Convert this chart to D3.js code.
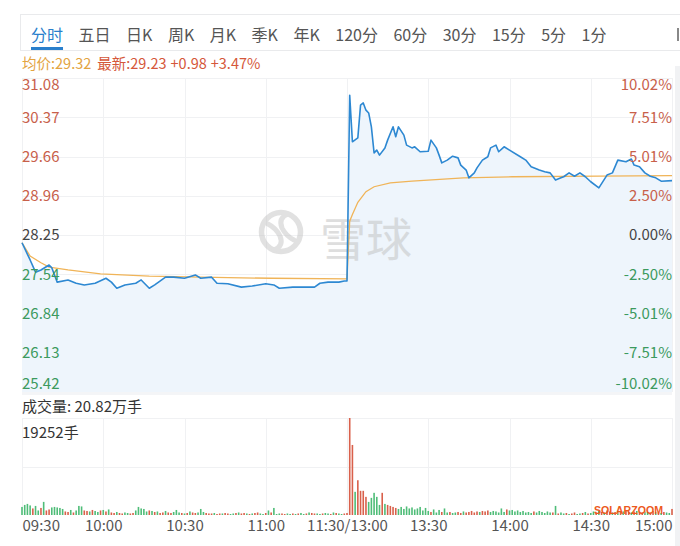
<!DOCTYPE html>
<html><head><meta charset="utf-8">
<script src="https://cdn.jsdelivr.net/npm/d3@7/dist/d3.min.js"></script>
<style>
html,body{margin:0;padding:0;background:#fff;}
svg{display:block;font-family:"Noto Sans CJK SC","Noto Sans",sans-serif;}
</style></head><body>
<svg id="c" width="680" height="546"></svg>
<script>
// ---------- data ----------
const tabs = ["分时","五日","日K","周K","月K","季K","年K","120分","60分","30分","15分","5分","1分"];
const avgPriceText = "均价:29.32";
const lastText = ["最新:29.23", "+0.98", "+3.47%"];
const volTitle = "成交量: 20.82万手";
const volMaxLabel = "19252手";

const prevClose = 28.25;
const priceTicks = [31.08, 30.37, 29.66, 28.96, 28.25, 27.54, 26.84, 26.13, 25.42];
const priceTickLabels = ["31.08","30.37","29.66","28.96","28.25","27.54","26.84","26.13","25.42"];
const pctTickLabels = ["10.02%","7.51%","5.01%","2.50%","0.00%","-2.50%","-5.01%","-7.51%","-10.02%"];

const timeTicks = [0, 30, 60, 90, 120, 150, 180, 210, 240]; // trading minutes
const timeTickLabels = ["09:30","10:00","10:30","11:00","11:30/13:00","13:30","14:00","14:30","15:00"];

// price line: minute index and price
const priceMin = [0,3,5,7,10,11,13,17,20,23,27,31,33,35,38,42,44,47,49,53,56,60,64,66,70,72,76,81,85,90,93,95,100,104,108,110,113,117,119,120,
  121,122,124,125,126,127,128,129,130,131,132,134,135,137,138,139,141,142,144,145,147,150,151,153,154,155,157,159,161,162,164,165,167,168,170,172,173,175,176,178,180,
  184,186,188,191,193,195,197,199,200,202,204,206,208,210,213,216,218,220,223,225,226,228,230,232,234,236,240];
const priceVal = [28.11,27.80,27.58,27.62,27.71,27.66,27.40,27.44,27.38,27.35,27.38,27.47,27.40,27.29,27.35,27.38,27.44,27.29,27.35,27.49,27.49,27.47,27.53,27.47,27.49,27.38,27.37,27.31,27.33,27.37,27.35,27.29,27.31,27.31,27.31,27.38,27.40,27.40,27.42,27.42,
  30.77,29.93,30.00,30.59,30.63,30.50,30.45,30.20,29.73,29.78,29.69,29.82,29.96,30.20,30.02,30.20,30.05,29.87,29.82,29.84,29.75,29.76,29.96,29.82,29.69,29.55,29.60,29.67,29.64,29.51,29.42,29.28,29.37,29.46,29.60,29.66,29.82,29.87,29.75,29.84,29.78,
  29.66,29.60,29.48,29.42,29.39,29.37,29.24,29.28,29.30,29.37,29.31,29.37,29.30,29.21,29.10,29.33,29.37,29.60,29.57,29.62,29.51,29.48,29.37,29.31,29.28,29.22,29.23];

// average price line
const avgMin = [0,3,7,10,17,29,47,66,92,120,121,122,124,127,130,136,144,163,181,213,240];
const avgVal = [28.11,27.87,27.75,27.67,27.62,27.55,27.51,27.49,27.47,27.46,28.50,28.62,28.84,29.03,29.12,29.19,29.22,29.28,29.30,29.31,29.32];

// volume per minute (手), morning m0..m120 and afternoon m121..m240
const volAM = [1600,2000,2200,1900,1300,1800,900,1400,2600,900,
  1100,1500,1600,1500,1400,1200,700,600,1000,500,
  900,1800,1700,900,800,700,1000,800,600,900,
  1000,700,1100,500,400,600,400,300,500,400,
  300,400,900,1600,1300,1200,700,900,800,600,
  700,400,500,800,500,400,600,1000,500,400,
  300,400,700,500,400,500,1200,600,400,300,
  300,400,200,300,300,400,300,200,300,400,
  500,300,400,300,200,300,400,500,300,200,
  400,900,500,1400,200,300,300,200,300,200,
  300,200,300,400,200,300,500,400,300,300,
  200,300,400,300,200,500,400,300,200,300,
  400];
const volPM = [19252,13900,4600,6900,4800,4800,3600,2600,3400,4400,
  3600,2000,4400,2200,2000,1800,1600,1400,1200,1600,
  1200,1700,1300,1500,1100,1300,1600,900,1400,800,
  600,1100,500,1000,600,1300,500,600,400,500,
  600,400,700,500,600,800,500,700,600,800,
  700,900,600,800,700,500,1300,600,1100,900,
  1000,700,900,600,800,500,600,400,700,500,
  800,600,400,700,500,500,1800,300,500,300,
  400,200,300,500,200,300,400,600,300,400,
  700,500,800,600,500,900,700,500,600,800,
  600,700,900,600,500,700,800,600,500,700,
  600,500,800,600,500,400,600,500,400,1200];
// r = up minute, g = down minute
const sideAM = "ggggrggrgr"+"rgggggrrgr"+"gggrrgrggr"+"grgrrgrrgg"+"rrgggggrgr"+"grrgrrgggr"+"grgrrgggrr"+"rgrrgrrggr"+"grrgrgrrgg"+"rgrgggrrgg"+"rgrggrgrrg"+"grggrgrggr"+"r";
const sidePM = "rrgrrrrggg"+"ggrgrrrrgg"+"gggggggggg"+"rgggrggrgg"+"rrgrrrrrgr"+"rrggggggrg"+"ggggggggrg"+"gggggrgrgg"+"rgrrggrgrg"+"grgrgrrgrg"+"rgrrgrgrrg"+"grrgrgrggr";

// ---------- layout ----------
const W = 680, H = 546;
const L = 22, R = 672;
const pTop = 78, pBot = 392;
const vTop = 418, vBot = 515;

const C = {
  red: "#c8604a", green: "#3c9a5e", gray: "#444",
  grid: "#f0f1f3", line: "#2d88d2", area: "#eef5fc", avg: "#f0b458",
  volRed: "#d9604b", volGreen: "#4fbd78", tab: "#555", tabActive: "#2a7fcc"
};

const svg = d3.select("#c");

const x = d3.scaleLinear().domain([0, 240]).range([L, R]);
const y = d3.scaleLinear().domain([priceTicks[priceTicks.length-1], priceTicks[0]]).range([pBot, pTop]);
const vMax = d3.max(volPM.concat(volAM));
const vy = d3.scaleLinear().domain([0, vMax]).range([vBot, vTop]);

// ---------- tab bar ----------
svg.append("rect").attr("x", 20.5).attr("y", 14.5).attr("width", 680).attr("height", 36)
  .attr("fill", "#fff").attr("stroke", "#e9eaec");
let tx = 31;
tabs.forEach((t, i) => {
  const el = svg.append("text").attr("x", tx).attr("y", 34).attr("dominant-baseline", "central")
    .attr("font-size", 16).attr("fill", i === 0 ? C.tabActive : C.tab).text(t);
  const w = el.node().getComputedTextLength();
  if (i === 0) {
    svg.append("rect").attr("x", tx).attr("y", 47).attr("width", w).attr("height", 3).attr("fill", C.tabActive);
  }
  tx += w + 15.5;
});
svg.append("rect").attr("x", 677).attr("y", 28).attr("width", 2).attr("height", 13).attr("fill", "#888");

// ---------- info line ----------
const info = svg.append("text").attr("x", 22).attr("y", 62).attr("dominant-baseline", "central").attr("font-size", 14.5);
info.append("tspan").attr("fill", "#e3a43f").text(avgPriceText);
info.append("tspan").attr("fill", "#d5573a").attr("dx", 6).text(lastText[0]);
info.append("tspan").attr("fill", "#d5573a").attr("dx", 4).text(lastText[1]);
info.append("tspan").attr("fill", "#d5573a").attr("dx", 4).text(lastText[2]);

// ---------- price panel ----------
const gGrid = svg.append("g");
gGrid.selectAll("line.h").data(priceTicks).join("line")
  .attr("x1", L).attr("x2", R).attr("y1", d => Math.round(y(d)) + 0.5).attr("y2", d => Math.round(y(d)) + 0.5)
  .attr("stroke", C.grid);
gGrid.selectAll("line.v").data(timeTicks).join("line")
  .attr("x1", d => Math.round(x(d)) + 0.5).attr("x2", d => Math.round(x(d)) + 0.5)
  .attr("y1", pTop).attr("y2", pBot).attr("stroke", C.grid);

const pricePts = priceMin.map((m, i) => [m, priceVal[i]]);
const avgPts = avgMin.map((m, i) => [m, avgVal[i]]);

svg.append("path").datum(pricePts)
  .attr("d", d3.area().x(d => x(d[0])).y0(pBot).y1(d => y(d[1])))
  .attr("fill", C.area);

// watermark
const wm = svg.append("g").attr("opacity", 0.55);
wm.append("circle").attr("cx", 281).attr("cy", 232).attr("r", 19.5).attr("fill", "none")
  .attr("stroke", "#c9c9c9").attr("stroke-width", 5.5);
wm.append("path").attr("d", "M268,224 Q276,228 280,236 Q284,246 274,250 M294,240 Q286,236 282,228 Q278,218 288,214")
  .attr("fill", "none").attr("stroke", "#c9c9c9").attr("stroke-width", 5).attr("stroke-linecap", "round");
wm.append("text").attr("x", 320).attr("y", 236).attr("dominant-baseline", "central")
  .attr("font-size", 46).attr("fill", "#c4c4c4").text("雪球");

svg.append("path").datum(avgPts)
  .attr("d", d3.line().x(d => x(d[0])).y(d => y(d[1])))
  .attr("fill", "none").attr("stroke", C.avg).attr("stroke-width", 1.3);
svg.append("path").datum(pricePts)
  .attr("d", d3.line().x(d => x(d[0])).y(d => y(d[1])))
  .attr("fill", "none").attr("stroke", C.line).attr("stroke-width", 1.6).attr("stroke-linejoin", "round");

function tickColor(i) { return i < 4 ? C.red : (i === 4 ? C.gray : C.green); }
function tickShift(i) { return i === 0 ? 7 : (i === priceTicks.length - 1 ? -8 : 0); }

const axL = svg.append("g").attr("transform", `translate(${L},0)`)
  .call(d3.axisRight(y).tickValues(priceTicks).tickFormat((d, i) => priceTickLabels[i]).tickSize(0).tickPadding(0));
axL.select(".domain").remove();
axL.selectAll("text").attr("font-size", 15).attr("font-family", '"Noto Sans CJK SC"')
  .attr("fill", (d, i) => tickColor(i)).attr("dy", (d, i) => (0.32 + tickShift(i) / 15) + "em");

const axR = svg.append("g").attr("transform", `translate(${R},0)`)
  .call(d3.axisLeft(y).tickValues(priceTicks).tickFormat((d, i) => pctTickLabels[i]).tickSize(0).tickPadding(0));
axR.select(".domain").remove();
axR.selectAll("text").attr("font-size", 15).attr("font-family", '"Noto Sans CJK SC"')
  .attr("fill", (d, i) => tickColor(i)).attr("dy", (d, i) => (0.32 + tickShift(i) / 15) + "em");

// ---------- volume panel ----------
svg.append("rect").attr("x", L).attr("y", pBot).attr("width", R - L).attr("height", 3).attr("fill", "#f4f5f7");
svg.append("text").attr("x", L).attr("y", 405).attr("dominant-baseline", "central").attr("font-size", 15)
  .attr("fill", "#333").text(volTitle);

const vg = svg.append("g");
vg.selectAll("line.v").data(timeTicks).join("line")
  .attr("x1", d => Math.round(x(d)) + 0.5).attr("x2", d => Math.round(x(d)) + 0.5)
  .attr("y1", vTop).attr("y2", vBot).attr("stroke", C.grid);
vg.selectAll("line.h").data([vTop, (vTop + vBot) / 2]).join("line")
  .attr("x1", L).attr("x2", R).attr("y1", d => Math.round(d) + 0.5).attr("y2", d => Math.round(d) + 0.5)
  .attr("stroke", C.grid);

svg.append("text").attr("x", L).attr("y", 431).attr("dominant-baseline", "central").attr("font-size", 15)
  .attr("fill", "#333").text(volMaxLabel);

const vols = volAM.concat(volPM).map((v, i) => ({ m: i, v, s: (sideAM + sidePM)[i] }));
svg.append("g").selectAll("rect").data(vols).join("rect")
  .attr("x", d => x(d.m) - 0.8).attr("width", 1.6)
  .attr("y", d => vy(d.v)).attr("height", d => vBot - vy(d.v))
  .attr("fill", d => d.s === "r" ? C.volRed : C.volGreen);

// time axis
const axT = svg.append("g").attr("transform", `translate(0,${vBot})`)
  .call(d3.axisBottom(x).tickValues(timeTicks).tickFormat((d, i) => timeTickLabels[i]).tickSize(0).tickPadding(0));
axT.select(".domain").remove();
axT.selectAll("text").attr("font-size", 15).attr("font-family", '"Noto Sans CJK SC"').attr("fill", "#555")
  .attr("dy", "1.05em")
  .attr("text-anchor", (d, i) => i === 0 ? "start" : (i === timeTicks.length - 1 ? "end" : "middle"));

// SOLARZOOM mark
svg.append("text").attr("x", 594).attr("y", 513.5).attr("font-size", 11).attr("font-weight", "bold")
  .attr("font-family", '"Liberation Sans"').attr("fill", "#ec5a1e")
  .attr("textLength", 69).attr("lengthAdjust", "spacingAndGlyphs").text("SOLARZOOM");

// right edge strip
svg.append("rect").attr("x", 675).attr("y", 66).attr("width", 5).attr("height", H - 66).attr("fill", "#f1f2f4");
</script>
</body></html>
